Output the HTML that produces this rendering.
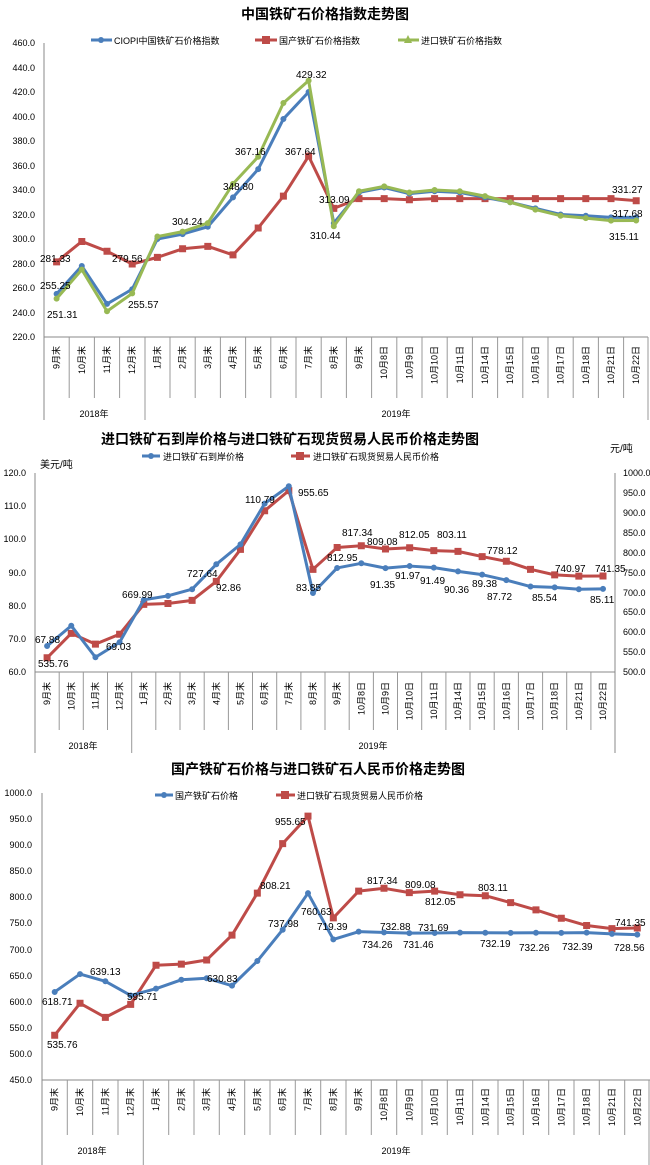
<!DOCTYPE html><html><head><meta charset="utf-8"><style>body{margin:0;background:#fff}svg{display:block}text{font-family:"Liberation Sans","Noto Sans CJK SC",sans-serif;fill:#000}.t{font-size:9px}.c{font-size:9px}.d{font-size:10px}.h{font-weight:bold;font-size:14px}.l{fill:none;vector-effect:non-scaling-stroke;stroke-linejoin:round}.m{fill:none;vector-effect:non-scaling-stroke;stroke-linecap:square}.r{fill:none;vector-effect:non-scaling-stroke;stroke-linecap:round}</style></head><body>
<svg width="650" height="1165" viewBox="0 0 650 1165" xmlns="http://www.w3.org/2000/svg">
<!-- CHART 1 -->
<text x="325" y="19" text-anchor="middle" class="h">中国铁矿石价格指数走势图</text>
<line x1="91" y1="40" x2="112" y2="40" stroke="#4a7ebb" stroke-width="3"/><circle cx="101" cy="40" r="3" fill="#4a7ebb"/><text x="114" y="44" class="c">CIOPI中国铁矿石价格指数</text>
<line x1="255" y1="40" x2="277" y2="40" stroke="#be4b48" stroke-width="3"/><rect x="262" y="36" width="8" height="8" fill="#be4b48"/><text x="279" y="44" class="c">国产铁矿石价格指数</text>
<line x1="398" y1="40" x2="419" y2="40" stroke="#98b954" stroke-width="3"/><path d="M408 35l4 8h-8z" fill="#98b954"/><text x="421" y="44" class="c">进口铁矿石价格指数</text>
<g stroke="#888"><line x1="44" y1="43" x2="44" y2="420"/><line x1="44" y1="337" x2="648" y2="337"/></g>
<g class="t" text-anchor="end"><text x="35" y="46">460.0</text><text x="35" y="71">440.0</text><text x="35" y="95">420.0</text><text x="35" y="120">400.0</text><text x="35" y="144">380.0</text><text x="35" y="169">360.0</text><text x="35" y="193">340.0</text><text x="35" y="218">320.0</text><text x="35" y="242">300.0</text><text x="35" y="267">280.0</text><text x="35" y="291">260.0</text><text x="35" y="316">240.0</text><text x="35" y="340">220.0</text></g>
<g stroke="#999"><path d="M69.2 337V398M94.4 337V398M119.6 337V398M145 337V420M170 337V398M195.2 337V398M220.4 337V398M245.6 337V398M270.8 337V398M296 337V398M321.2 337V398M346.4 337V398M371.6 337V398M396.8 337V398M422 337V398M447.2 337V398M472.4 337V398M497.6 337V398M522.8 337V398M548 337V398M573.2 337V398M598.4 337V398M623.6 337V398M648 337V420"/></g>
<g class="t" text-anchor="end">
<text transform="translate(59.6 346) rotate(-90)">9月末</text><text transform="translate(84.8 346) rotate(-90)">10月末</text><text transform="translate(110 346) rotate(-90)">11月末</text><text transform="translate(135.2 346) rotate(-90)">12月末</text><text transform="translate(160.4 346) rotate(-90)">1月末</text><text transform="translate(185.6 346) rotate(-90)">2月末</text><text transform="translate(210.8 346) rotate(-90)">3月末</text><text transform="translate(236 346) rotate(-90)">4月末</text><text transform="translate(261.2 346) rotate(-90)">5月末</text><text transform="translate(286.4 346) rotate(-90)">6月末</text><text transform="translate(311.6 346) rotate(-90)">7月末</text><text transform="translate(336.8 346) rotate(-90)">8月末</text><text transform="translate(362 346) rotate(-90)">9月末</text><text transform="translate(387.2 346) rotate(-90)">10月8日</text><text transform="translate(412.4 346) rotate(-90)">10月9日</text><text transform="translate(437.6 346) rotate(-90)">10月10日</text><text transform="translate(462.8 346) rotate(-90)">10月11日</text><text transform="translate(488 346) rotate(-90)">10月14日</text><text transform="translate(513.2 346) rotate(-90)">10月15日</text><text transform="translate(538.4 346) rotate(-90)">10月16日</text><text transform="translate(563.6 346) rotate(-90)">10月17日</text><text transform="translate(588.8 346) rotate(-90)">10月18日</text><text transform="translate(614 346) rotate(-90)">10月21日</text><text transform="translate(639.2 346) rotate(-90)">10月22日</text></g>
<text x="94" y="417" class="t" text-anchor="middle">2018年</text><text x="396" y="417" class="t" text-anchor="middle">2019年</text>
<g transform="translate(56.6 606.5) scale(25.2 -1.225)">
<polyline class="l" stroke="#be4b48" stroke-width="3" points="0,281.33 1,298 2,290 3,279.56 4,285 5,292 6,294 7,287 8,309 9,335 10,367.64 11,325 12,333 13,333 14,332 15,333 16,333 17,333 18,333 19,333 20,333 21,333 22,333 23,331.27"/>
<path class="m" stroke="#be4b48" stroke-width="7" d="M0 281.33h0M1 298h0M2 290h0M3 279.56h0M4 285h0M5 292h0M6 294h0M7 287h0M8 309h0M9 335h0M10 367.64h0M11 325h0M12 333h0M13 333h0M14 332h0M15 333h0M16 333h0M17 333h0M18 333h0M19 333h0M20 333h0M21 333h0M22 333h0M23 331.27h0"/>
<polyline class="l" stroke="#4a7ebb" stroke-width="3" points="0,255.25 1,278 2,247 3,259 4,300 5,304 6,310 7,334 8,357 9,398 10,420 11,313 12,338 13,342 14,337 15,339 16,338 17,334 18,330 19,325 20,320 21,319 22,317.68 23,317.68"/>
<path class="r" stroke="#4a7ebb" stroke-width="6" d="M0 255.25h0M1 278h0M2 247h0M3 259h0M4 300h0M5 304h0M6 310h0M7 334h0M8 357h0M9 398h0M10 420h0M11 313h0M12 338h0M13 342h0M14 337h0M15 339h0M16 338h0M17 334h0M18 330h0M19 325h0M20 320h0M21 319h0M22 317.68h0M23 317.68h0"/>
<polyline class="l" stroke="#98b954" stroke-width="3" points="0,251.31 1,275 2,241 3,255.57 4,302 5,306 6,313 7,345 8,367.16 9,411 10,429.32 11,310.44 12,339 13,343 14,338 15,340 16,339 17,335 18,330 19,324 20,319 21,317 22,315 23,315.11"/>
<path class="r" stroke="#98b954" stroke-width="6" d="M0 251.31h0M1 275h0M2 241h0M3 255.57h0M4 302h0M5 306h0M6 313h0M7 345h0M8 367.16h0M9 411h0M10 429.32h0M11 310.44h0M12 339h0M13 343h0M14 338h0M15 340h0M16 339h0M17 335h0M18 330h0M19 324h0M20 319h0M21 317h0M22 315h0M23 315.11h0"/>
</g>
<g class="d"><text x="40" y="262">281.33</text><text x="40" y="289">255.25</text><text x="47" y="318">251.31</text><text x="112" y="262">279.56</text><text x="128" y="308">255.57</text><text x="172" y="225">304.24</text><text x="223" y="190">348.80</text><text x="235" y="155">367.16</text><text x="285" y="155">367.64</text><text x="296" y="78">429.32</text><text x="319" y="203">313.09</text><text x="310" y="239">310.44</text><text x="612" y="193">331.27</text><text x="612" y="217">317.68</text><text x="609" y="240">315.11</text></g>

<!-- CHART 2 -->
<text x="290" y="444" text-anchor="middle" class="h">进口铁矿石到岸价格与进口铁矿石现货贸易人民币价格走势图</text>
<line x1="142" y1="456" x2="160" y2="456" stroke="#4a7ebb" stroke-width="3"/><circle cx="151" cy="456" r="3" fill="#4a7ebb"/><text x="163" y="460" class="c">进口铁矿石到岸价格</text>
<line x1="291" y1="456" x2="310" y2="456" stroke="#be4b48" stroke-width="3"/><rect x="296" y="452" width="8" height="8" fill="#be4b48"/><text x="313" y="460" class="c">进口铁矿石现货贸易人民币价格</text>
<text x="40" y="468" class="d">美元/吨</text><text x="610" y="452" class="d">元/吨</text>
<g stroke="#888"><line x1="35" y1="473" x2="35" y2="753"/><line x1="615" y1="473" x2="615" y2="753"/><line x1="35" y1="672" x2="615" y2="672"/></g>
<g class="t" text-anchor="end"><text x="26" y="476">120.0</text><text x="26" y="509">110.0</text><text x="26" y="542">100.0</text><text x="26" y="576">90.0</text><text x="26" y="609">80.0</text><text x="26" y="642">70.0</text><text x="26" y="675">60.0</text></g>
<g class="t"><text x="623" y="476">1000.0</text><text x="623" y="496">950.0</text><text x="623" y="516">900.0</text><text x="623" y="536">850.0</text><text x="623" y="556">800.0</text><text x="623" y="576">750.0</text><text x="623" y="596">700.0</text><text x="623" y="615">650.0</text><text x="623" y="635">600.0</text><text x="623" y="655">550.0</text><text x="623" y="675">500.0</text></g>
<g stroke="#999"><path d="M59.2 672V730M83.3 672V730M107.5 672V730M131.7 672V753M155.8 672V730M180 672V730M204.2 672V730M228.4 672V730M252.5 672V730M276.7 672V730M300.9 672V730M325 672V730M349.2 672V730M373.4 672V730M397.5 672V730M421.7 672V730M445.9 672V730M470 672V730M494.2 672V730M518.4 672V730M542.6 672V730M566.7 672V730M590.9 672V730"/></g>
<g class="t" text-anchor="end">
<text transform="translate(50.1 682) rotate(-90)">9月末</text><text transform="translate(74.3 682) rotate(-90)">10月末</text><text transform="translate(98.4 682) rotate(-90)">11月末</text><text transform="translate(122.6 682) rotate(-90)">12月末</text><text transform="translate(146.8 682) rotate(-90)">1月末</text><text transform="translate(170.9 682) rotate(-90)">2月末</text><text transform="translate(195.1 682) rotate(-90)">3月末</text><text transform="translate(219.3 682) rotate(-90)">4月末</text><text transform="translate(243.5 682) rotate(-90)">5月末</text><text transform="translate(267.6 682) rotate(-90)">6月末</text><text transform="translate(291.8 682) rotate(-90)">7月末</text><text transform="translate(316 682) rotate(-90)">8月末</text><text transform="translate(340.1 682) rotate(-90)">9月末</text><text transform="translate(364.3 682) rotate(-90)">10月8日</text><text transform="translate(388.5 682) rotate(-90)">10月9日</text><text transform="translate(412.6 682) rotate(-90)">10月10日</text><text transform="translate(436.8 682) rotate(-90)">10月11日</text><text transform="translate(461 682) rotate(-90)">10月14日</text><text transform="translate(485.2 682) rotate(-90)">10月15日</text><text transform="translate(509.3 682) rotate(-90)">10月16日</text><text transform="translate(533.5 682) rotate(-90)">10月17日</text><text transform="translate(557.7 682) rotate(-90)">10月18日</text><text transform="translate(581.8 682) rotate(-90)">10月21日</text><text transform="translate(606 682) rotate(-90)">10月22日</text></g>
<text x="83" y="749" class="t" text-anchor="middle">2018年</text><text x="373" y="749" class="t" text-anchor="middle">2019年</text>
<g transform="translate(47.1 871) scale(24.17 -0.398)">
<polyline class="l" stroke="#be4b48" stroke-width="3" points="0,535.76 1,597 2,570 3,595 4,670 5,672 6,680 7,727.64 8,808 9,905 10,955.65 11,758 12,812.95 13,817.34 14,809.08 15,812.05 16,805 17,803.11 18,790 19,778.12 20,758 21,744 22,740.97 23,741.35"/>
<path class="m" stroke="#be4b48" stroke-width="7" d="M0 535.76h0M1 597h0M2 570h0M3 595h0M4 670h0M5 672h0M6 680h0M7 727.64h0M8 808h0M9 905h0M10 955.65h0M11 758h0M12 812.95h0M13 817.34h0M14 809.08h0M15 812.05h0M16 805h0M17 803.11h0M18 790h0M19 778.12h0M20 758h0M21 744h0M22 740.97h0M23 741.35h0"/>
</g>
<g transform="translate(47.1 871.4) scale(24.17 -3.32)">
<polyline class="l" stroke="#4a7ebb" stroke-width="3" points="0,67.88 1,74 2,64.5 3,69.03 4,81.8 5,83 6,85 7,92.5 8,98.5 9,110.79 10,116 11,83.85 12,91.4 13,92.8 14,91.35 15,91.97 16,91.49 17,90.36 18,89.38 19,87.72 20,85.8 21,85.54 22,85 23,85.11"/>
<path class="r" stroke="#4a7ebb" stroke-width="6" d="M0 67.88h0M1 74h0M2 64.5h0M3 69.03h0M4 81.8h0M5 83h0M6 85h0M7 92.5h0M8 98.5h0M9 110.79h0M10 116h0M11 83.85h0M12 91.4h0M13 92.8h0M14 91.35h0M15 91.97h0M16 91.49h0M17 90.36h0M18 89.38h0M19 87.72h0M20 85.8h0M21 85.54h0M22 85h0M23 85.11h0"/>
</g>
<g class="d"><text x="35" y="643">67.88</text><text x="38" y="667">535.76</text><text x="106" y="650">69.03</text><text x="122" y="598">669.99</text><text x="187" y="577">727.64</text><text x="216" y="591">92.86</text><text x="245" y="503">110.79</text><text x="298" y="496">955.65</text><text x="296" y="591">83.85</text><text x="327" y="561">812.95</text><text x="342" y="536">817.34</text><text x="367" y="545">809.08</text><text x="399" y="538">812.05</text><text x="437" y="538">803.11</text><text x="370" y="588">91.35</text><text x="395" y="579">91.97</text><text x="420" y="584">91.49</text><text x="444" y="593">90.36</text><text x="472" y="587">89.38</text><text x="487" y="554">778.12</text><text x="487" y="600">87.72</text><text x="532" y="601">85.54</text><text x="555" y="572">740.97</text><text x="595" y="572">741.35</text><text x="590" y="603">85.11</text></g>

<!-- CHART 3 -->
<text x="318" y="774" text-anchor="middle" class="h">国产铁矿石价格与进口铁矿石人民币价格走势图</text>
<line x1="155" y1="795" x2="173" y2="795" stroke="#4a7ebb" stroke-width="3"/><circle cx="164" cy="795" r="3" fill="#4a7ebb"/><text x="175" y="799" class="c">国产铁矿石价格</text>
<line x1="276" y1="795" x2="295" y2="795" stroke="#be4b48" stroke-width="3"/><rect x="281" y="791" width="8" height="8" fill="#be4b48"/><text x="297" y="799" class="c">进口铁矿石现货贸易人民币价格</text>
<g stroke="#888"><line x1="42" y1="793" x2="42" y2="1165"/><line x1="42" y1="1080" x2="650" y2="1080"/></g>
<g class="t" text-anchor="end"><text x="32" y="796">1000.0</text><text x="32" y="822">950.0</text><text x="32" y="848">900.0</text><text x="32" y="874">850.0</text><text x="32" y="900">800.0</text><text x="32" y="926">750.0</text><text x="32" y="953">700.0</text><text x="32" y="979">650.0</text><text x="32" y="1005">600.0</text><text x="32" y="1031">550.0</text><text x="32" y="1057">500.0</text><text x="32" y="1083">450.0</text></g>
<g stroke="#999"><path d="M67.3 1080V1135M92.7 1080V1135M118 1080V1135M143.3 1080V1165M168.7 1080V1135M194 1080V1135M219.3 1080V1135M244.7 1080V1135M270 1080V1135M295.3 1080V1135M320.7 1080V1135M346 1080V1135M371.3 1080V1135M396.7 1080V1135M422 1080V1135M447.3 1080V1135M472.7 1080V1135M498 1080V1135M523.3 1080V1135M548.7 1080V1135M574 1080V1135M599.3 1080V1135M624.7 1080V1135M649 1080V1165"/></g>
<g class="t" text-anchor="end">
<text transform="translate(57.7 1088) rotate(-90)">9月末</text><text transform="translate(83 1088) rotate(-90)">10月末</text><text transform="translate(108.4 1088) rotate(-90)">11月末</text><text transform="translate(133.7 1088) rotate(-90)">12月末</text><text transform="translate(159 1088) rotate(-90)">1月末</text><text transform="translate(184.4 1088) rotate(-90)">2月末</text><text transform="translate(209.7 1088) rotate(-90)">3月末</text><text transform="translate(235 1088) rotate(-90)">4月末</text><text transform="translate(260.4 1088) rotate(-90)">5月末</text><text transform="translate(285.7 1088) rotate(-90)">6月末</text><text transform="translate(311 1088) rotate(-90)">7月末</text><text transform="translate(336.4 1088) rotate(-90)">8月末</text><text transform="translate(361.7 1088) rotate(-90)">9月末</text><text transform="translate(387 1088) rotate(-90)">10月8日</text><text transform="translate(412.4 1088) rotate(-90)">10月9日</text><text transform="translate(437.7 1088) rotate(-90)">10月10日</text><text transform="translate(463 1088) rotate(-90)">10月11日</text><text transform="translate(488.4 1088) rotate(-90)">10月14日</text><text transform="translate(513.7 1088) rotate(-90)">10月15日</text><text transform="translate(539 1088) rotate(-90)">10月16日</text><text transform="translate(564.4 1088) rotate(-90)">10月17日</text><text transform="translate(589.7 1088) rotate(-90)">10月18日</text><text transform="translate(615 1088) rotate(-90)">10月21日</text><text transform="translate(640.4 1088) rotate(-90)">10月22日</text></g>
<text x="92" y="1154" class="t" text-anchor="middle">2018年</text><text x="396" y="1154" class="t" text-anchor="middle">2019年</text>
<g transform="translate(54.7 1314.8) scale(25.33 -0.5218)">
<polyline class="l" stroke="#be4b48" stroke-width="3" points="0,535.76 1,597 2,570 3,595 4,670 5,672 6,680 7,727.64 8,808.21 9,903 10,955.65 11,760.63 12,812 13,817.34 14,809.08 15,812.05 16,805 17,803.11 18,790 19,776 20,760 21,746 22,740 23,741.35"/>
<path class="m" stroke="#be4b48" stroke-width="7" d="M0 535.76h0M1 597h0M2 570h0M3 595h0M4 670h0M5 672h0M6 680h0M7 727.64h0M8 808.21h0M9 903h0M10 955.65h0M11 760.63h0M12 812h0M13 817.34h0M14 809.08h0M15 812.05h0M16 805h0M17 803.11h0M18 790h0M19 776h0M20 760h0M21 746h0M22 740h0M23 741.35h0"/>
<polyline class="l" stroke="#4a7ebb" stroke-width="3" points="0,618.71 1,653 2,639.13 3,612 4,625 5,642 6,645 7,630.83 8,678 9,737.98 10,808 11,719.39 12,734.26 13,732.88 14,731.46 15,731.69 16,732.5 17,732.19 18,732 19,732.26 20,732 21,732.39 22,730 23,728.56"/>
<path class="r" stroke="#4a7ebb" stroke-width="6" d="M0 618.71h0M1 653h0M2 639.13h0M3 612h0M4 625h0M5 642h0M6 645h0M7 630.83h0M8 678h0M9 737.98h0M10 808h0M11 719.39h0M12 734.26h0M13 732.88h0M14 731.46h0M15 731.69h0M16 732.5h0M17 732.19h0M18 732h0M19 732.26h0M20 732h0M21 732.39h0M22 730h0M23 728.56h0"/>
</g>
<g class="d"><text x="42" y="1005">618.71</text><text x="90" y="975">639.13</text><text x="127" y="1000">595.71</text><text x="47" y="1048">535.76</text><text x="207" y="982">630.83</text><text x="260" y="889">808.21</text><text x="268" y="927">737.98</text><text x="275" y="825">955.65</text><text x="301" y="915">760.63</text><text x="317" y="930">719.39</text><text x="367" y="884">817.34</text><text x="405" y="888">809.08</text><text x="425" y="905">812.05</text><text x="478" y="891">803.11</text><text x="380" y="930">732.88</text><text x="418" y="931">731.69</text><text x="362" y="948">734.26</text><text x="403" y="948">731.46</text><text x="480" y="947">732.19</text><text x="519" y="951">732.26</text><text x="562" y="950">732.39</text><text x="615" y="926">741.35</text><text x="614" y="951">728.56</text></g>
</svg></body></html>
